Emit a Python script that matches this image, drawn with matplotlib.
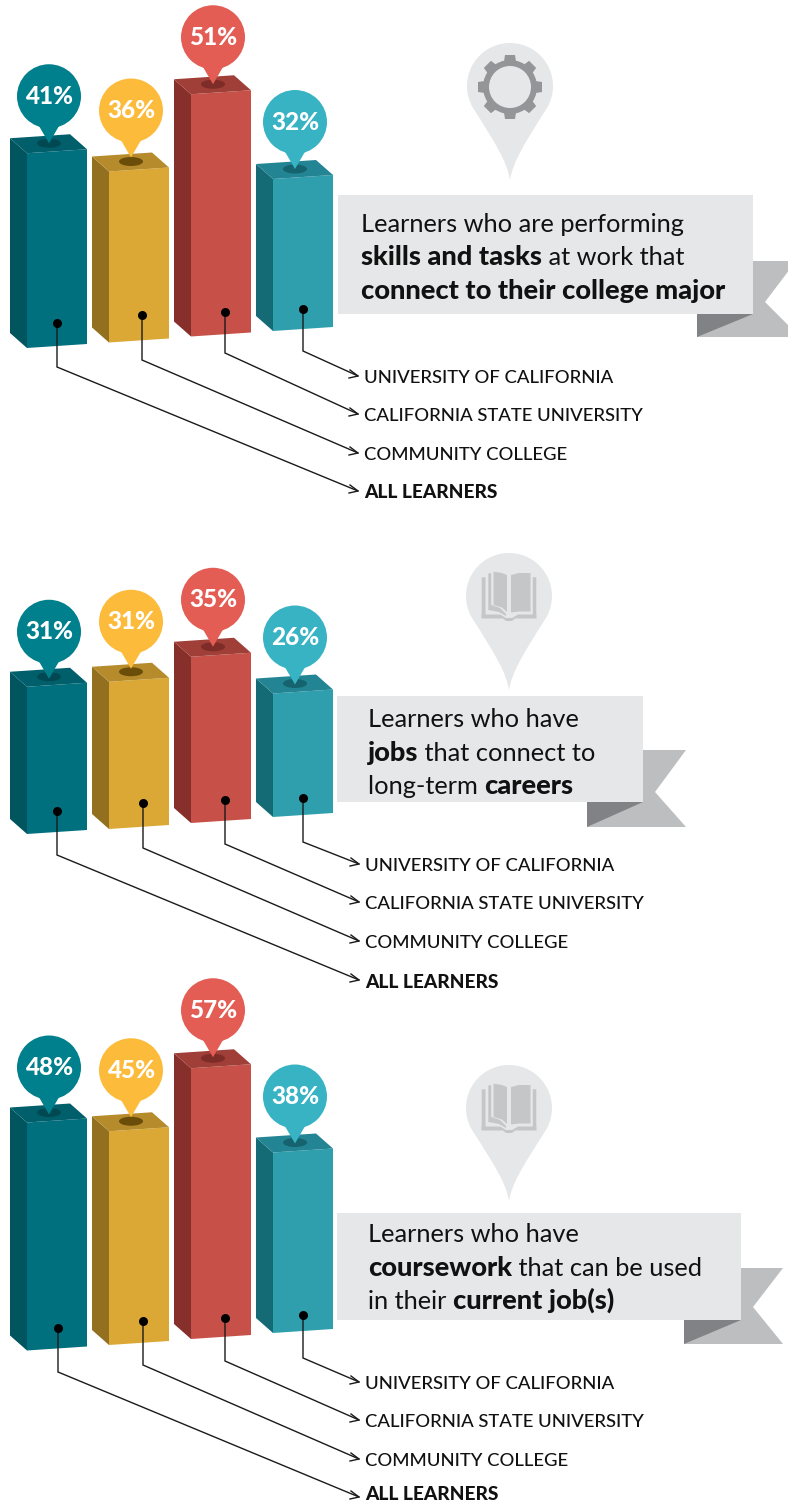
import numpy as np
import matplotlib
matplotlib.use("Agg")
import matplotlib.pyplot as plt
from matplotlib.patches import Polygon, Ellipse, Circle, Rectangle, PathPatch
from matplotlib.path import Path

# ---- data ----
categories = ["ALL LEARNERS", "COMMUNITY COLLEGE", "CALIFORNIA STATE UNIVERSITY", "UNIVERSITY OF CALIFORNIA"]
skills_values = [41, 36, 51, 32]
jobs_values = [31, 31, 35, 26]
coursework_values = [48, 45, 57, 38]
skills_text = [[("Learners who are performing", 0)],
               [("skills and tasks", 1), (" at work that", 0)],
               [("connect to their college major", 1)]]
jobs_text = [[("Learners who have", 0)],
             [("jobs", 1), (" that connect to", 0)],
             [("long-term ", 0), ("careers", 1)]]
coursework_text = [[("Learners who have", 0)],
                   [("coursework", 1), (" that can be used", 0)],
                   [("in their ", 0), ("current job(s)", 1)]]

# ---- style / layout ----
W, H = 788, 1504
FONT = "Lato"
S = 4.75                 # pixels per percentage point
BAR_X0, BAR_STEP, BAR_W = 27, 82, 60
DX, DY, SKEW = 17, 15, 4
PIN_R = 32
front = ["#00707F", "#DCA835", "#C75148", "#2F9FAD"]
side = ["#00555F", "#93701F", "#862F2B", "#146A75"]
top = ["#005F6B", "#B68B2B", "#A03E38", "#238494"]
hole = ["#004852", "#6B4D0A", "#7D2C27", "#15636F"]
pin = ["#007F8C", "#FDBB3C", "#E35D55", "#37B3C3"]
PAPER, RIB, FOLD, ICON = "#E6E7E8", "#BCBEC0", "#808285", "#939598"

panels = [
    dict(vals=skills_values, text=skills_text, base=[348, 342.5, 336.5, 331], icon="gear",
         lift=[57, 61, 57, 57],
         pin=(510, 86, 180), rect=(338, 195, 753, 314), tail=(261, 796, 765, 302, 337, 800, 697),
         tx=361, base_y=[232, 265, 299], lx=364, ly=[491, 453, 414, 376],
         dots=[(57, 323), (142, 315), (225, 312), (303, 309)],
         elbows=[367, 360, 353, 351]),
    dict(vals=jobs_values, text=jobs_text, base=[834, 829, 823, 817], icon="book",
         lift=[55, 60, 57, 56],
         pin=(509, 596, 690), rect=(337, 696, 643, 802), tail=(750, 686, 655, 792, 827, 686, 587),
         tx=368, base_y=[727, 761, 794], lx=365, ly=[980, 941, 902, 864],
         dots=[(57, 811), (143, 803), (225, 800), (303, 798)],
         elbows=[855, 848, 844, 842]),
    dict(vals=coursework_values, text=coursework_text, base=[1350.5, 1345, 1339, 1333], icon="book",
         lift=[55, 61, 58, 56],
         pin=(509, 1108, 1201), rect=(337, 1213, 741, 1320), tail=(1268, 783, 753, 1307, 1344, 783, 684),
         tx=368, base_y=[1242, 1276, 1309], lx=365, ly=[1497, 1459, 1420, 1382],
         dots=[(58, 1328), (143, 1321), (225, 1318), (303, 1315)],
         elbows=[1372, 1365, 1361, 1358]),
]

fig = plt.figure(figsize=(W / 100, H / 100), dpi=100, facecolor="white")


def draw_bars(p):
    """One axes per panel: x in pixels, y in percentage points, with 0 at the first bar's foot."""
    b0 = p["base"][0]
    ax = fig.add_axes([0, 0, 1, 1], facecolor="none")
    ax.set_xlim(0, W)
    ax.set_ylim((b0 - H) / S, b0 / S)
    ax.axis("off")
    for i, v in enumerate(p["vals"]):
        x = BAR_X0 + BAR_STEP * i
        y0 = (b0 - p["base"][i]) / S
        y1 = y0 + v
        dy, sk = DY / S, SKEW / S
        ax.add_patch(Polygon([(x, y0), (x + BAR_W, y0 + sk), (x + BAR_W, y1 + sk), (x, y1)],
                             fc=front[i], ec="none"))
        ax.add_patch(Polygon([(x - DX, y0 + dy), (x, y0), (x, y1), (x - DX, y1 + dy)],
                             fc=side[i], ec="none"))
        ax.add_patch(Polygon([(x - DX, y1 + dy), (x, y1), (x + BAR_W, y1 + sk),
                              (x + BAR_W - DX, y1 + sk + dy)], fc=top[i], ec="none"))
        cx = x + BAR_W / 2 - 8
        ax.add_patch(Ellipse((cx, y1 + 10 / S), 24, 9 / S, fc=hole[i], ec="none"))
        py = y1 + p["lift"][i] / S
        ax.add_patch(Ellipse((cx, py), 2 * PIN_R, 2 * PIN_R / S, fc=pin[i], ec="none"))
        ax.add_patch(Polygon([(cx - 11, py - 28 / S), (cx + 11, py - 28 / S), (cx, py - 47 / S)],
                             fc=pin[i], ec="none"))
        ax.text(cx, py, f"{v}%", color="white", fontsize=17.5, fontweight="black",
                family=FONT, ha="center", va="center")


for p in panels:
    draw_bars(p)

over = fig.add_axes([0, 0, 1, 1], facecolor="none")
over.set_xlim(0, W)
over.set_ylim(H, 0)
over.axis("off")


def teardrop(cx, cy, tip, r=43):
    a = np.deg2rad(np.linspace(-215, 35, 80))
    verts = [(cx + r * np.cos(t), cy + r * np.sin(t)) for t in a]
    cx_l, cy_l = verts[0]
    codes = [Path.MOVETO] + [Path.LINETO] * (len(verts) - 1)
    verts += [(cx + 14, cy + 58), (cx + 3, tip - 18), (cx, tip),
              (cx - 3, tip - 18), (cx - 14, cy + 58), (cx_l, cy_l), (cx_l, cy_l)]
    codes += [Path.CURVE4] * 6 + [Path.CLOSEPOLY]
    over.add_patch(PathPatch(Path(verts, codes), fc=PAPER, ec="none"))


def gear(cx, cy):
    over.add_patch(Circle((cx, cy), 27, fc=ICON, ec="none"))
    for k in range(8):
        t = k * np.pi / 4
        c, s = np.cos(t), np.sin(t)
        pts = [(-6.5, 22), (6.5, 22), (5, 32), (-5, 32)]
        over.add_patch(Polygon([(cx + u * c - w * s, cy + u * s + w * c) for u, w in pts],
                               fc=ICON, ec="none", closed=True))
    over.add_patch(Circle((cx, cy), 21, fc=PAPER, ec="none"))


book_parts = [
    [(-27.3, -18.7), (-23.5, -18.7), (-23.5, 18.5), (-27.3, 22.5)],
    [(-20.7, -22.7), (-17.8, -22.7), (-17.8, 9), (-9, 12), (-3, 18), (-3, 20), (-10, 16), (-20.7, 14)],
    [(-15.5, -24.3), (-7, -23), (-2, -21), (-2, 16), (-7, 11.5), (-15.5, 9)],
    [(2, -21), (10, -23), (21.5, -23), (21.5, 15.5), (10, 15.5), (2, 16.5)],
    [(23.8, -18.7), (27.3, -18.7), (27.3, 22.5), (23.8, 18.5)],
    [(-27.3, 18.5), (-9, 18.5), (-3, 22), (3, 22), (9, 18.5), (27.3, 18.5),
     (27.3, 22.5), (6, 22.5), (3, 25), (-3, 25), (-6, 22.5), (-27.3, 22.5)],
]


def book(cx, cy):
    for part in book_parts:
        over.add_patch(Polygon([(cx + u, cy + w) for u, w in part], fc="#C4C6C8", ec="none"))


def rich_line(x, y, runs):
    r = fig.canvas.get_renderer()
    for s, bold in runs:
        size = 19.6 if bold else 18.3
        weight = "black" if bold else "regular"
        over.text(x, y, s, fontsize=size, family=FONT, color="#111111",
                  fontweight=weight, va="baseline", ha="left")
        probe = over.text(0, 0, "|" + s + "|", fontsize=size, family=FONT, fontweight=weight)
        bar = over.text(0, 0, "||", fontsize=size, family=FONT, fontweight=weight)
        x += probe.get_window_extent(r).width - bar.get_window_extent(r).width
        probe.remove()
        bar.remove()


for p in panels:
    cx, cy, tip = p["pin"]
    teardrop(cx, cy, tip)
    gear(cx, cy + 1) if p["icon"] == "gear" else book(cx, cy)
    x0, y0, x1, y1 = p["rect"]
    ty, tr, nx, ny, by, br, lx = p["tail"]
    over.add_patch(Polygon([(x1, ty), (tr, ty), (nx, ny), (br, by), (lx, by), (lx, y1), (x1, y1)],
                           fc=RIB, ec="none"))
    over.add_patch(Polygon([(lx, y1), (x1, y1), (lx, by)], fc=FOLD, ec="none"))
    over.add_patch(Rectangle((x0, y0), x1 - x0, y1 - y0, fc=PAPER, ec="none"))
    for runs, by_ in zip(p["text"], p["base_y"]):
        rich_line(p["tx"], by_, runs)
    tipx = p["lx"] - 6
    for i, name in enumerate(categories):
        dx, dy = p["dots"][i]
        ey = p["elbows"][i]
        ly = p["ly"][i]
        over.plot([dx, dx, tipx], [dy, ey, ly], color="#1a1a1a", lw=1.0, solid_joinstyle="miter")
        over.plot([dx], [dy], "o", color="black", ms=6.5, mew=0)
        over.plot([tipx - 8, tipx, tipx - 9], [ly - 6, ly, ly + 2], color="#1a1a1a", lw=1.0)
        over.text(p["lx"], min(ly + 2, H - 9), name, fontsize=13.8 if i == 0 else 13.3, family=FONT,
                  color="#111111", fontweight="black" if i == 0 else "medium", va="center", ha="left")

fig.savefig("out.png", dpi=100, facecolor="white")
